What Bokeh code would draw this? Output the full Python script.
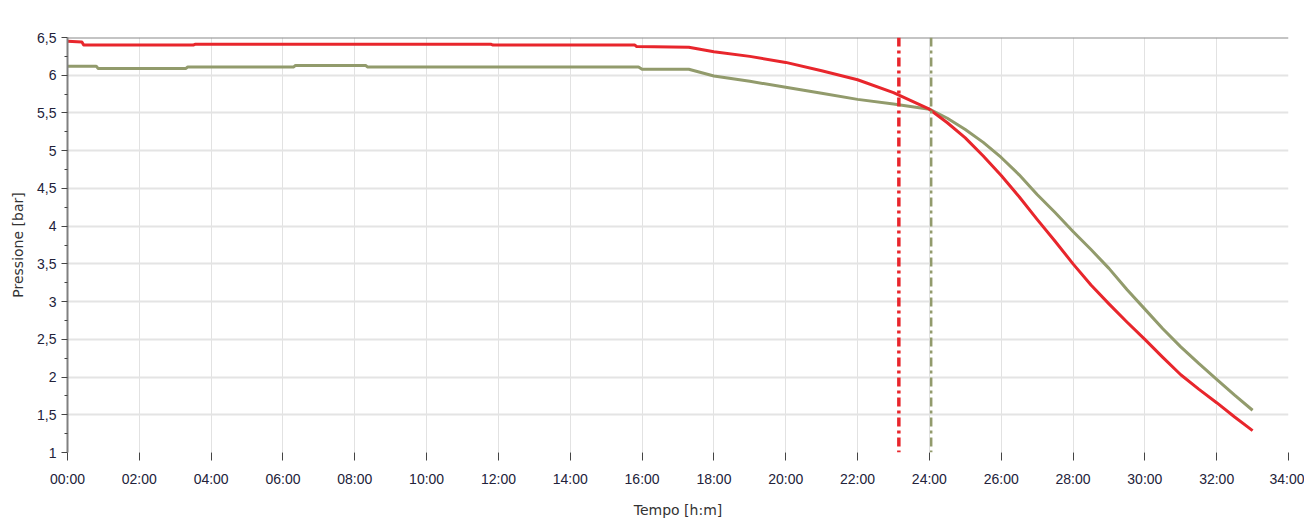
from bokeh.plotting import figure
from bokeh.models import Span, FixedTicker
from bokeh.embed import file_html
from bokeh.resources import INLINE

# hours / bar
red_t = [0, 0.4, 0.45, 3.5, 3.55, 11.8, 11.85, 15.8, 15.85, 17.3, 18, 19, 20, 21, 22, 23, 24,
         24.5, 25, 25.5, 26, 26.5, 27, 27.5, 28, 28.5, 29, 29.5, 30, 30.5, 31, 31.5, 32, 32.5, 33]
red_p = [6.45, 6.44, 6.40, 6.40, 6.41, 6.41, 6.40, 6.40, 6.38, 6.37, 6.31, 6.25, 6.17, 6.06, 5.94, 5.77, 5.55,
         5.37, 5.17, 4.93, 4.67, 4.39, 4.09, 3.80, 3.50, 3.22, 2.97, 2.73, 2.50, 2.26, 2.03, 1.84, 1.66, 1.47, 1.29]
green_t = [0, 0.8, 0.85, 3.3, 3.35, 6.3, 6.35, 8.3, 8.35, 15.9, 16, 17.3, 18, 19, 20, 21, 22, 23, 24,
           24.5, 25, 25.5, 26, 26.5, 27, 27.5, 28, 28.5, 29, 29.5, 30, 30.5, 31, 31.5, 32, 32.5, 33]
green_p = [6.12, 6.12, 6.09, 6.09, 6.11, 6.11, 6.13, 6.13, 6.11, 6.11, 6.08, 6.08, 5.99, 5.92, 5.84, 5.76, 5.68, 5.62, 5.55,
           5.43, 5.28, 5.11, 4.91, 4.68, 4.42, 4.18, 3.93, 3.69, 3.44, 3.16, 2.90, 2.64, 2.40, 2.18, 1.97, 1.76, 1.56]
red_marker = 23.15
green_marker = 24.05

x_ticks = list(range(0, 35, 2))
x_labels = {t: f"{t:02d}:00" for t in x_ticks}
y_ticks = [1, 1.5, 2, 2.5, 3, 3.5, 4, 4.5, 5, 5.5, 6, 6.5]
y_labels = {v: (f"{v:g}".replace(".", ",")) for v in y_ticks}

RED = "#e8262c"
GREEN = "#929b6c"
FONT = "Liberation Sans"

p = figure(width=1304, height=520, x_range=(0, 34), y_range=(1, 6.5),
           output_backend="svg", toolbar_location=None,
           min_border_left=67, min_border_top=37, min_border_bottom=67, min_border_right=16)
p.outline_line_color = None
p.background_fill_color = "white"

p.xaxis.ticker = FixedTicker(ticks=x_ticks)
p.xaxis.major_label_overrides = x_labels
p.yaxis.ticker = FixedTicker(ticks=y_ticks, minor_ticks=[v + 0.25 for v in y_ticks[:-1]])
p.yaxis.major_label_overrides = y_labels

p.xgrid.grid_line_color = "#e2e2e2"
p.ygrid.grid_line_color = "#e4e4e4"
p.ygrid.grid_line_width = 2

for ax in (p.xaxis[0], p.yaxis[0]):
    ax.major_label_text_font = FONT
    ax.major_label_text_font_size = "14px"
    ax.major_label_text_color = "#22223a"
    ax.axis_label_text_font = "DejaVu Sans"
    ax.axis_label_text_font_size = "14px"
    ax.axis_label_text_font_style = "normal"
    ax.axis_label_text_color = "#333333"
    ax.major_tick_line_color = "#444444"
    ax.minor_tick_line_color = "#444444"

p.xaxis.axis_line_color = None
p.xaxis.major_tick_in = 0
p.xaxis.major_tick_out = 8
p.xaxis.minor_tick_line_color = None
p.xaxis.axis_label = "Tempo [h:m]"
p.xaxis.axis_label_standoff = 12
p.xaxis.major_label_standoff = 10

p.yaxis.axis_line_color = "#808080"
p.yaxis.axis_line_width = 2
p.yaxis.major_tick_in = 0
p.yaxis.major_tick_out = 6
p.yaxis.minor_tick_in = 0
p.yaxis.minor_tick_out = 3
p.yaxis.axis_label = "Pressione [bar]"
p.yaxis.axis_label_standoff = 8

p.add_layout(Span(location=6.5, dimension="width", line_color="#8a8a8a", line_width=2))

p.line(green_t, green_p, line_color=GREEN, line_width=3, line_join="round")
p.line(red_t, red_p, line_color=RED, line_width=3, line_join="round")

p.add_layout(Span(location=red_marker, dimension="height", line_color=RED,
                  line_width=3.5, line_dash="9 4 3 4"))
p.add_layout(Span(location=green_marker, dimension="height", line_color=GREEN,
                  line_width=2.5, line_dash="9 4 3 4"))

open("out.html", "w").write(file_html(p, INLINE))
